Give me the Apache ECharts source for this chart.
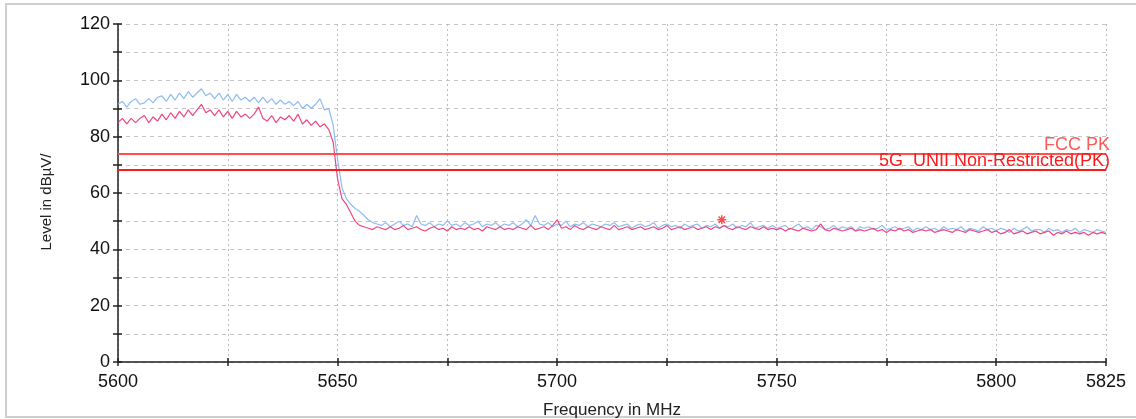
<!DOCTYPE html>
<html>
<head>
<meta charset="utf-8">
<script src="https://cdn.jsdelivr.net/npm/echarts@6/dist/echarts.min.js"></script>
<style>
html,body{margin:0;padding:0;background:#fff;}
#chart{width:1136px;height:419px;}
</style>
</head>
<body>
<div id="chart"></div>
<script>
// Frequency axis (MHz), one trace point per MHz
const startFreq = 5600;
const stepMHz = 1;
const xTickLabels = [5600, 5650, 5700, 5750, 5800, 5825];
const yTickLabels = [0, 20, 40, 60, 80, 100, 120];

// Blue trace (dBµV)
const blueTrace = [
  91.5, 92.5, 90.5, 92.5, 93.5, 91.5, 92, 93.5, 92, 94,
  94.5, 92.5, 95, 93, 95.5, 93.5, 96, 94, 95.5, 97,
  94.5, 95.5, 93.5, 95.5, 93, 95, 92.5, 95, 93, 94,
  92.5, 94, 92, 94, 92, 93.5, 91.5, 93, 91.5, 92.5,
  91, 92.5, 90, 91.5, 90, 91.5, 93.5, 89.5, 90, 84,
  72, 62, 58, 56, 54.5, 53.5, 52, 50.5, 49.5, 49,
  48.5, 49.5, 48, 49, 50, 48.5, 49, 48, 52, 49,
  48.5, 49.5, 48, 49, 48.5, 50, 48.5, 49, 48, 49.5,
  48.5, 49, 50, 48, 49, 48.5, 49.5, 48, 49, 48.5,
  49.5, 48, 49, 50.5, 48.5, 52, 49, 48.5, 49.5, 48,
  49, 48.5, 50, 48, 49, 48.5, 49.5, 48, 49, 48.5,
  48, 49, 48.5, 49.5, 48, 48.5, 49, 47.5, 48.5, 49,
  48, 48.5, 49.5, 47.5, 48.5, 49, 48, 48.5, 47.5, 49,
  48, 48.5, 49, 47.5, 48.5, 48, 49, 47.5, 48.5, 48,
  49, 47.5, 48.5, 48, 49.5, 47.5, 48, 48.5, 47.5, 48.5,
  47.5, 48, 48.5, 47, 48, 49, 47.5, 48, 47, 48.5,
  48, 47, 47.5, 48.5, 47, 48, 47.5, 48, 46.5, 48,
  47.5, 48, 47, 47.5, 48.5, 47, 47.5, 48, 47, 47.5,
  48, 46.5, 47.5, 47, 48, 47, 47.5, 46.5, 48, 47,
  47.5, 47, 48, 46.5, 47.5, 47, 46.5, 48, 47, 47.5,
  46.5, 47.5, 47, 46, 47.5, 46.5, 47, 48, 46.5, 47,
  47, 46, 47.5, 46.5, 47, 46, 47, 46.5, 47.5, 46,
  47, 46.5, 46, 47, 46.5, 46
];

// Pink trace (dBµV)
const pinkTrace = [
  85, 86.5, 84.5, 86.5, 85, 86.5, 87.5, 85, 87, 85.5,
  88, 86, 88.5, 86.5, 89, 87, 89.5, 87.5, 89.5, 91.5,
  88.5, 89.5, 87.5, 89.5, 87, 89, 86.5, 89, 87, 88,
  86.5, 88, 90.5, 86.5, 85.5, 87.5, 85, 87, 86, 87.5,
  85.5, 88, 84.5, 86, 84, 85.5, 83.5, 84.5, 82.5, 78,
  65, 58, 56, 53, 50, 48.5, 48, 47.5, 47, 48,
  47.5, 47, 48, 47, 47.5, 48.5, 47, 47.5, 48, 47,
  46.5, 47.5, 48, 47, 47.5, 46.5, 48, 47, 47.5, 47,
  48, 47, 47.5, 46.5, 48, 47.5, 47, 48, 47, 47.5,
  47, 48, 47.5, 47, 48.5, 47, 47.5, 48, 47, 48.5,
  50.5, 47.5, 48, 47, 48.5, 47.5, 47, 48, 47.5, 47,
  48, 47.5, 47, 48.5, 47, 47.5, 48, 47, 47.5, 48,
  47, 47.5, 48, 47, 47.5, 48.5, 47, 47.5, 48, 47,
  47.5, 48, 47, 47.5, 48, 47, 48, 47.5, 48.5, 47.5,
  47, 48, 47.5, 47, 48, 47.5, 47, 48, 47, 47.5,
  47, 47.5, 46.5, 47.5, 47, 46.5, 47.5, 47, 46.5, 47,
  49, 47, 46.5, 47.5, 47, 46.5, 47, 47.5, 46.5, 47,
  46.5, 47, 47.5, 46.5, 47, 46, 47, 46.5, 47.5, 46.5,
  47, 46, 46.5, 47, 46.5, 47, 46, 46.5, 47, 46.5,
  46, 47, 46.5, 46, 47, 46.5, 46, 46.5, 47, 46,
  46.5, 45.5, 46, 47, 45.5, 46, 46.5, 45.5, 46, 46.5,
  45.5, 46, 46.5, 45, 46, 45.5, 46.5, 45.5, 46, 45.5,
  46, 45, 46, 45.5, 46, 45.5
];

// Limit lines
const limitNames = ['FCC PK', '5G_UNII Non-Restricted(PK)'];
const limitValues = [74, 68.2];

// Marker (peak)
const markerPoint = [5737.5, 50.5];

const toPairs = arr => arr.map((v, i) => [startFreq + i * stepMHz, v]);

const chart = echarts.init(document.getElementById('chart'), null, {renderer: 'canvas'});
const font = 'Liberation Sans, Arial, sans-serif';
const asterisk = 'path://M4,0h2v3.6l2.6,-2.6l1.4,1.4l-2.6,2.6h3.6v2h-3.6l2.6,2.6l-1.4,1.4l-2.6,-2.6v3.6h-2v-3.6l-2.6,2.6l-1.4,-1.4l2.6,-2.6h-3.6v-2h3.6l-2.6,-2.6l1.4,-1.4l2.6,2.6z';

const option = {
  animation: false,
  backgroundColor: '#fff',
  grid: {left: 118, right: 30, top: 24, bottom: 57, containLabel: false, outerBoundsMode: 'none'},
  graphic: [
    {type: 'rect', shape: {x: 6, y: 4, width: 1140, height: 413}, style: {fill: 'none', stroke: '#cfcfcf', lineWidth: 2}, silent: true},
    {type: 'text', x: 47, y: 202, rotation: Math.PI / 2,
      style: {text: 'Level in dBµV/', font: '15px ' + font, fill: '#222', textAlign: 'center', textVerticalAlign: 'middle'}}
  ],
  xAxis: [{
    type: 'value', min: 5600, max: 5825, interval: 25,
    name: 'Frequency in MHz', nameLocation: 'middle', nameGap: 40,
    nameTextStyle: {fontFamily: font, fontSize: 17, color: '#222'},
    axisLine: {show: true, onZero: false, lineStyle: {color: '#222', width: 1.5}},
    axisTick: {show: true, length: 4, lineStyle: {color: '#222', width: 1.5}},
    axisLabel: {
      margin: 11, fontFamily: font, fontSize: 18, color: '#111',
      formatter: v => xTickLabels.indexOf(v) >= 0 ? String(v) : ''
    },
    splitLine: {show: true, lineStyle: {color: '#bdbdbd', type: [2, 3], width: 1}}
  }, {
    type: 'value', min: 5600, max: 5825, interval: 25, position: 'bottom',
    axisLine: {show: false}, axisLabel: {show: false}, splitLine: {show: false},
    axisTick: {show: true, inside: true, length: 4, lineStyle: {color: '#222', width: 1.5}}
  }],
  yAxis: [{
    type: 'value', min: 0, max: 120, interval: 10,
    axisLine: {show: true, onZero: false, lineStyle: {color: '#222', width: 1.5}},
    axisTick: {show: true, length: 5, lineStyle: {color: '#222', width: 1.5}},
    axisLabel: {
      margin: 8, fontFamily: font, fontSize: 18, color: '#111',
      formatter: v => yTickLabels.indexOf(v) >= 0 ? String(v) : ''
    },
    splitLine: {show: true, lineStyle: {color: '#c4c4c4', type: [4, 4], width: 1}}
  }, {
    type: 'value', min: 0, max: 120, interval: 10, position: 'left',
    axisLine: {show: false}, axisLabel: {show: false}, splitLine: {show: false},
    axisTick: {show: true, inside: true, length: 4, lineStyle: {color: '#222', width: 1.5}}
  }],
  series: [
    {
      name: 'blue', type: 'line', data: toPairs(blueTrace), symbol: 'none',
      lineStyle: {color: '#8cbcf4', width: 1.2}, z: 3
    },
    {
      name: 'pink', type: 'line', data: toPairs(pinkTrace), symbol: 'none',
      lineStyle: {color: '#f2457e', width: 1.2}, z: 4
    },
    {
      name: 'limits', type: 'line', data: [], z: 5,
      markLine: {
        silent: true, symbol: 'none',
        data: [
          {yAxis: limitValues[0], lineStyle: {color: '#ff4f4f', width: 1.8, type: 'solid'},
            label: {show: true, position: 'insideEndTop', formatter: limitNames[0], color: '#ff5a5a', fontFamily: font, fontSize: 18, distance: [-4, 0]}},
          {yAxis: limitValues[1], lineStyle: {color: '#ff1a1a', width: 2.2, type: 'solid'},
            label: {show: true, position: 'insideEndTop', formatter: limitNames[1], color: '#ff1a1a', fontFamily: font, fontSize: 18, distance: [-4, 0]}}
        ]
      }
    },
    {
      name: 'marker', type: 'scatter', data: [markerPoint], symbol: asterisk, symbolSize: 9,
      itemStyle: {color: '#ff2020'}, z: 6
    }
  ]
};
chart.setOption(option);
</script>
</body>
</html>
